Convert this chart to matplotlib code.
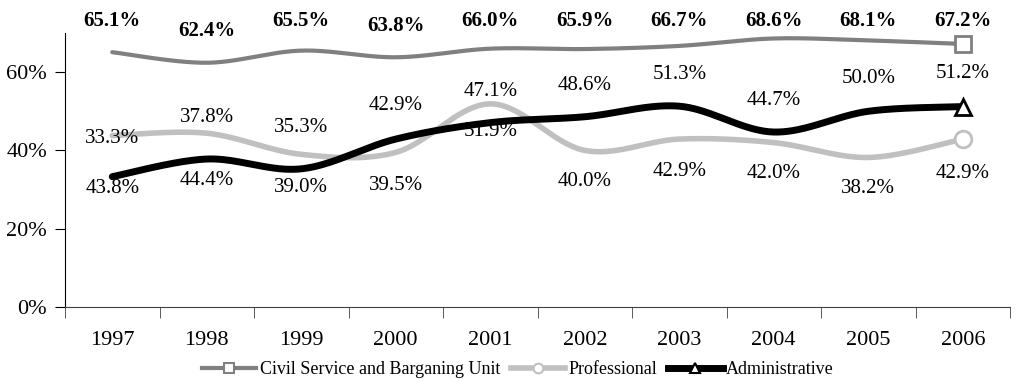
import numpy as np
import matplotlib
matplotlib.use("Agg")
import matplotlib.pyplot as plt
from matplotlib.lines import Line2D

years = ["1997", "1998", "1999", "2000", "2001", "2002", "2003", "2004", "2005", "2006"]
civil_service = [65.1, 62.4, 65.5, 63.8, 66.0, 65.9, 66.7, 68.6, 68.1, 67.2]
professional = [43.8, 44.4, 39.0, 39.5, 51.9, 40.0, 42.9, 42.0, 38.2, 42.9]
administrative = [33.3, 37.8, 35.3, 42.9, 47.1, 48.6, 51.3, 44.7, 50.0, 51.2]
series_names = ["Civil Service and Barganing Unit", "Professional", "Administrative"]

# label offsets (percentage points) relative to each point
prof_label_shift = [-13.6, -12.0, -8.5, -8.5, -7.0, -8.0, -8.2, -8.0, -8.0, -8.7]
admin_label_shift = [9.7, 10.5, 10.5, 8.5, 8.0, 8.0, 8.0, 8.0, 8.5, 8.5]

plt.rcParams["font.family"] = ["Liberation Serif", "DejaVu Serif"]


def smooth(x, y, n=40):
    """Catmull-Rom curve through the points (spreadsheet-style smoothed line)."""
    x = np.asarray(x, float)
    y = np.asarray(y, float)
    px = np.concatenate([[x[0]], x, [x[-1]]])
    py = np.concatenate([[y[0]], y, [y[-1]]])
    xs, ys = [], []
    for i in range(1, len(px) - 2):
        p0, p1, p2, p3 = (np.array([px[j], py[j]]) for j in (i - 1, i, i + 1, i + 2))
        c1 = p1 + (p2 - p0) / 6.0
        c2 = p2 - (p3 - p1) / 6.0
        t = np.linspace(0, 1, n)[:, None]
        pts = ((1 - t) ** 3) * p1 + 3 * ((1 - t) ** 2) * t * c1 + 3 * (1 - t) * t ** 2 * c2 + t ** 3 * p2
        xs.append(pts[:, 0])
        ys.append(pts[:, 1])
    return np.concatenate(xs), np.concatenate(ys)


fig = plt.figure(figsize=(10.18, 3.81), dpi=100)
ax = fig.add_axes([65 / 1018, 1 - 307 / 381, 945 / 1018, 274 / 381])

x = np.arange(len(years))
styles = [
    (civil_service, "#808080", 3.0, "s"),
    (professional, "#C0C0C0", 4.0, "o"),
    (administrative, "#000000", 5.0, "^"),
]
handles = []
for (vals, color, lw, mk), name in zip(styles, series_names):
    sx, sy = smooth(x, vals)
    ax.plot(sx, sy, color=color, lw=lw, solid_capstyle="round", zorder=2)
    ax.plot(x[-1], vals[-1], marker=mk, ms=12, mfc="white", mec=color,
            mew=2.0, ls="none", zorder=3)
    handles.append(Line2D([], [], color=color, lw=lw, marker=mk, ms=7,
                          mfc="white", mec=color, mew=1.5))

label_kw = dict(ha="center", va="center", fontsize=15, clip_on=False)
for i, v in enumerate(civil_service):
    ax.text(x[i], min(v + 8.0, 73.1), f"{v:.1f}%", fontweight="bold", **label_kw)
for i, v in enumerate(professional):
    ax.text(x[i], v + prof_label_shift[i], f"{v:.1f}%", **label_kw)
for i, v in enumerate(administrative):
    ax.text(x[i], v + admin_label_shift[i], f"{v:.1f}%", **label_kw)

ax.set_xlim(-0.5, len(years) - 0.5)
ax.set_ylim(0, 70)
ax.set_yticks([0, 20, 40, 60])
ax.set_yticklabels([f"{t}%" for t in (0, 20, 40, 60)], fontsize=16)
ax.set_xticks(x)
ax.set_xticklabels(years, fontsize=16)
ax.set_xticks(np.arange(-0.5, len(years)), minor=True)
ax.tick_params(axis="x", which="major", length=0, pad=17)
ax.tick_params(axis="x", which="minor", length=8, direction="out", color="#404040")
ax.tick_params(axis="y", length=7, direction="out", pad=6)

for s in ("top", "right"):
    ax.spines[s].set_visible(False)
ax.spines["bottom"].set_color("#404040")
ax.spines["left"].set_color("black")

fig.legend(handles, series_names, loc="center", bbox_to_anchor=(518 / 1018, 1 - 370 / 381),
           ncol=3, frameon=False, fontsize=13, handlelength=3.0, handletextpad=0.2,
           columnspacing=0.6)

fig.savefig("out.png", dpi=100)
